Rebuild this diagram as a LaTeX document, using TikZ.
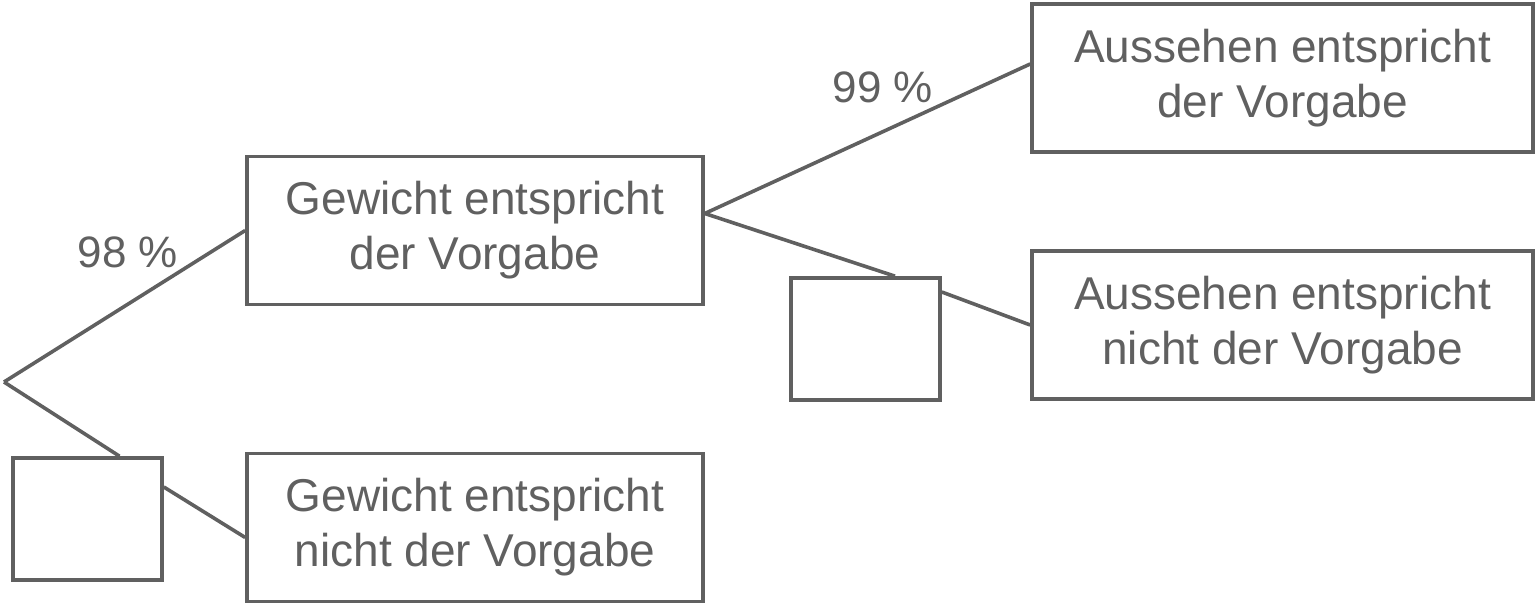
\documentclass[tikz,border=0pt]{standalone}
\usepackage{fontspec}
\setmainfont{Liberation Sans}
\definecolor{treegray}{HTML}{606060}
\tikzset{
  outcome/.style={draw=treegray,line width=1.8pt,minimum width=228pt,minimum height=74pt,
    inner sep=0pt,align=center,text=treegray,font=\fontsize{23}{27.5}\selectfont},
  blank/.style={draw=treegray,line width=1.8pt,minimum width=74.5pt,minimum height=61pt,inner sep=0pt},
  branch/.style={draw=treegray,line width=1.8pt},
  prob/.style={text=treegray,font=\fontsize{22}{26}\selectfont}
}
\begin{document}
\begin{tikzpicture}[x=.5pt,y=-.5pt]
\useasboundingbox (0,0) rectangle (1535,603);
% First stage: weight
\coordinate (root) at (4,382);
\node[outcome] (weight-ok) at (475,230.5) {Gewicht entspricht\\der Vorgabe};
\node[outcome] (weight-no) at (475,527.5) {Gewicht entspricht\\nicht der Vorgabe};
\node[blank] (blank-weight) at (87.5,519) {};
\draw[branch] (root) -- (weight-ok.west);
\draw[branch] (root) -- ([xshift=16pt]blank-weight.north);
\draw[branch] ([yshift=16pt]blank-weight.east) -- ([yshift=-5pt]weight-no.west);
\node[prob] (p-weight) at (128,252) {98 \%};
% Second stage: appearance
\node[outcome,minimum width=250.5pt] (look-ok) at (1282.5,78) {Aussehen entspricht\\der Vorgabe};
\node[outcome,minimum width=250.5pt] (look-no) at (1282.5,325) {Aussehen entspricht\\nicht der Vorgabe};
\node[blank] (blank-look) at (865.5,339) {};
\draw[branch] ([yshift=8.5pt]weight-ok.east) -- ([yshift=7pt]look-ok.west);
\draw[branch] ([yshift=8.5pt]weight-ok.east) -- ([xshift=14.75pt]blank-look.north);
\draw[branch] ([yshift=23.5pt]blank-look.east) -- (look-no.west);
\node[prob] (p-look) at (883,87) {99 \%};
\end{tikzpicture}
\end{document}
